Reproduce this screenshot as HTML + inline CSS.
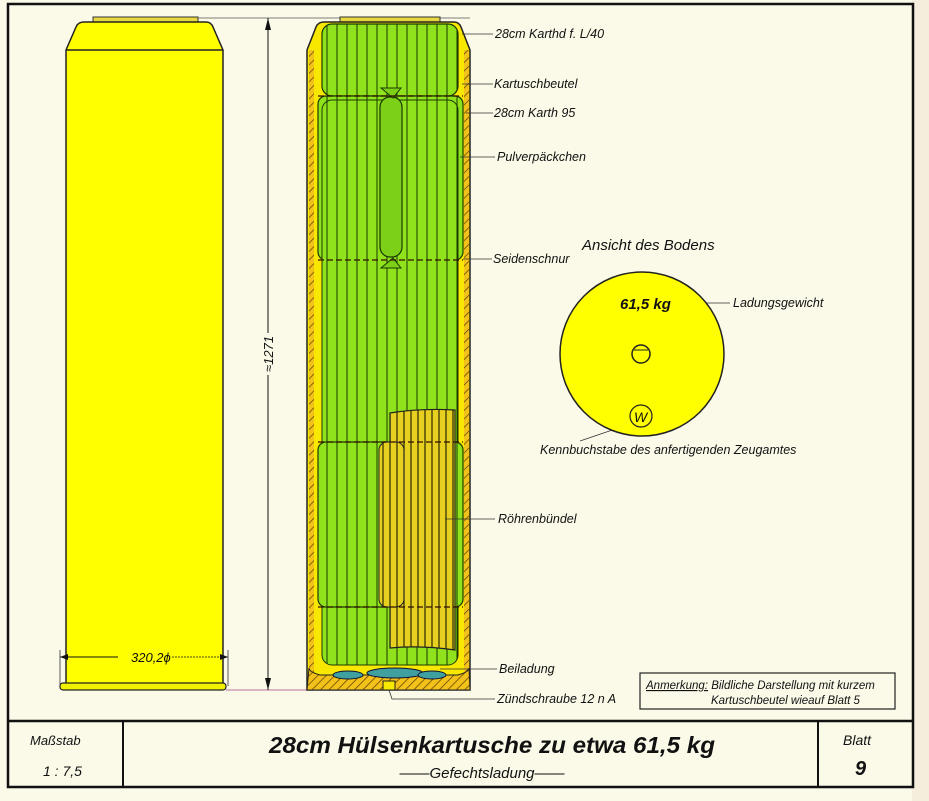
<!DOCTYPE html>
<html><head><meta charset="utf-8"><style>
body{margin:0;background:#fbf9e8;}
svg{display:block}
text{font-family:"Liberation Sans",sans-serif;font-style:italic;fill:#111}
</style></head><body>
<svg width="929" height="801" viewBox="0 0 929 801" xmlns="http://www.w3.org/2000/svg">
<defs>
<pattern id="hatch" width="6" height="6" patternUnits="userSpaceOnUse" patternTransform="rotate(45)">
<rect width="6" height="6" fill="#f2c21a"/><line x1="0" y1="0" x2="0" y2="6" stroke="#5a3a00" stroke-width="1.4"/></pattern>
<pattern id="vl" width="10" height="10" patternUnits="userSpaceOnUse" x="322">
<rect width="10" height="10" fill="#8fe21c"/><line x1="5" y1="0" x2="5" y2="10" stroke="#1a3a00" stroke-width="1"/></pattern>
<pattern id="vy" width="7" height="10" patternUnits="userSpaceOnUse" x="380">
<rect width="7" height="10" fill="#e8d020"/><line x1="3" y1="0" x2="3" y2="10" stroke="#2a2a00" stroke-width="1.2"/></pattern>
</defs>
<rect width="929" height="801" fill="#fbf9e8"/>
<rect x="912" y="0" width="17" height="801" fill="#f5eedd"/>
<rect x="8" y="4" width="905" height="783" fill="none" stroke="#111" stroke-width="2.5"/>
<line x1="8" y1="721" x2="913" y2="721" stroke="#111" stroke-width="2.5"/>
<line x1="123" y1="721" x2="123" y2="787" stroke="#111" stroke-width="2"/>
<line x1="818" y1="721" x2="818" y2="787" stroke="#111" stroke-width="2"/>

<!-- left cylinder -->
<rect x="93" y="17" width="105" height="6" fill="#e8d840" stroke="#333" stroke-width="1"/>
<path d="M84 22 L206 22 Q211 22 213 27 L223 50 L223 684 L66 684 L66 50 L76 27 Q78 22 84 22 Z" fill="#ffff00" stroke="#222" stroke-width="1.5"/>
<line x1="66" y1="50" x2="223" y2="50" stroke="#222" stroke-width="1.5"/>
<rect x="60" y="683" width="166" height="7" rx="3" fill="#f0f000" stroke="#222" stroke-width="1.2"/>
<line x1="60" y1="650" x2="60" y2="686" stroke="#333" stroke-width="0.8"/>
<line x1="228" y1="650" x2="228" y2="686" stroke="#333" stroke-width="0.8"/>
<line x1="60" y1="657" x2="118" y2="657" stroke="#111" stroke-width="1"/>
<line x1="172" y1="657" x2="228" y2="657" stroke="#111" stroke-width="0.8" stroke-dasharray="2 1"/>
<path d="M60 657 l8 -3 v6 z M228 657 l-8 -3 v6 z" fill="#111"/>
<text x="131" y="662" font-size="13">320,2ϕ</text>
<line x1="198" y1="18" x2="470" y2="18" stroke="#555" stroke-width="0.8"/>
<line x1="226" y1="690" x2="310" y2="690" stroke="#a04080" stroke-width="0.8"/>
<line x1="268" y1="18" x2="268" y2="333" stroke="#111" stroke-width="1"/>
<line x1="268" y1="375" x2="268" y2="690" stroke="#111" stroke-width="1"/>
<path d="M268 18 l-3 12 h6 z M268 690 l-3 -12 h6 z" fill="#111"/>
<text transform="translate(273,372) rotate(-90)" font-size="13">≈1271</text>

<!-- middle cylinder -->
<rect x="340" y="17" width="100" height="6" fill="#e8d840" stroke="#333" stroke-width="1"/>
<path d="M324 22 L454 22 Q459 22 461 27 L470 50 L470 690 L307 690 L307 50 L316 27 Q318 22 324 22 Z" fill="#f8e800" stroke="#222" stroke-width="1.5"/>
<rect x="309" y="50" width="5" height="630" fill="url(#hatch)"/>
<rect x="464" y="50" width="5" height="630" fill="url(#hatch)"/>
<path d="M309 668 Q309 672 320 675 L458 675 Q469 672 469 668 L470 690 L307 690 Z" fill="url(#hatch)" stroke="#222" stroke-width="1"/>
<rect x="322" y="24" width="136" height="72" rx="10" fill="url(#vl)" stroke="#1a3a00" stroke-width="1.2"/>
<rect x="318" y="96" width="145" height="164" rx="8" fill="url(#vl)" stroke="#1a3a00" stroke-width="1.2"/>
<rect x="322" y="100" width="136" height="565" rx="10" fill="url(#vl)" stroke="#1a3a00" stroke-width="1"/>
<rect x="318" y="442" width="145" height="165" rx="8" fill="url(#vl)" stroke="#1a3a00" stroke-width="1.2"/>
<rect x="380" y="97" width="22" height="160" rx="10" fill="#7cd018" stroke="#1a3a00" stroke-width="1.2"/>
<path d="M381 88 L401 88 L393 98 Z M381 268 L401 268 L393 258 Z" fill="#7cd018" stroke="#1a3a00"/>
<path d="M390 413 Q420 408 455 410 L455 650 Q420 645 390 648 Z" fill="url(#vy)" stroke="#222" stroke-width="1.2"/>
<rect x="379" y="442" width="25" height="165" rx="8" fill="url(#vy)" stroke="#222" stroke-width="1"/>
<g stroke="#331100" stroke-width="1.2" stroke-dasharray="6 3">
<line x1="318" y1="96" x2="463" y2="96"/><line x1="318" y1="260" x2="463" y2="260"/>
<line x1="318" y1="442" x2="463" y2="442"/><line x1="318" y1="607" x2="463" y2="607"/></g>
<ellipse cx="348" cy="675" rx="15" ry="4" fill="#40a0a0" stroke="#113"/>
<ellipse cx="395" cy="673" rx="28" ry="5" fill="#40a0a0" stroke="#113"/>
<ellipse cx="432" cy="675" rx="14" ry="4" fill="#40a0a0" stroke="#113"/>
<rect x="383" y="681" width="12" height="9" fill="#f8e800" stroke="#222"/>

<g stroke="#333" stroke-width="0.8">
<line x1="462" y1="34" x2="493" y2="34"/><line x1="462" y1="84" x2="493" y2="84"/>
<line x1="466" y1="113" x2="493" y2="113"/><line x1="460" y1="157" x2="495" y2="157"/>
<line x1="463" y1="259" x2="492" y2="259"/><line x1="445" y1="519" x2="495" y2="519"/>
<line x1="440" y1="669" x2="497" y2="669"/><path d="M389 690 L392 699 L495 699" fill="none"/>
<line x1="666" y1="303" x2="730" y2="303"/><line x1="630" y1="424" x2="580" y2="441"/>
</g>
<g font-size="12.5">
<text x="495" y="38">28cm Karthd f. L/40</text>
<text x="494" y="88">Kartuschbeutel</text>
<text x="494" y="117">28cm Karth 95</text>
<text x="497" y="161">Pulverpäckchen</text>
<text x="493" y="263">Seidenschnur</text>
<text x="498" y="523">Röhrenbündel</text>
<text x="499" y="673">Beiladung</text>
<text x="497" y="703">Zündschraube  12 n A</text>
</g>

<text x="582" y="250" font-size="15">Ansicht des Bodens</text>
<circle cx="642" cy="354" r="82" fill="#ffff00" stroke="#222" stroke-width="1.5"/>
<text x="620" y="309" font-size="15" font-weight="bold" font-style="normal">61,5 kg</text>
<text x="733" y="307" font-size="12.5">Ladungsgewicht</text>
<circle cx="641" cy="354" r="9" fill="none" stroke="#222" stroke-width="1.5"/>
<line x1="634" y1="350" x2="648" y2="350" stroke="#222"/>
<circle cx="641" cy="416" r="11" fill="none" stroke="#222" stroke-width="1.2"/>
<text x="634" y="422" font-size="14" font-style="normal">W</text>
<text x="540" y="454" font-size="12.5">Kennbuchstabe des anfertigenden Zeugamtes</text>

<rect x="640" y="673" width="255" height="36" fill="none" stroke="#222" stroke-width="1.2"/>
<text x="646" y="689" font-size="11.5"><tspan text-decoration="underline">Anmerkung:</tspan> Bildliche Darstellung mit kurzem</text>
<text x="711" y="704" font-size="11.5">Kartuschbeutel wieauf Blatt 5</text>

<text x="30" y="745" font-size="13">Maßstab</text>
<text x="43" y="776" font-size="14">1 : 7,5</text>
<text x="492" y="753" font-size="23" font-weight="bold" text-anchor="middle" textLength="446" lengthAdjust="spacingAndGlyphs">28cm Hülsenkartusche zu etwa 61,5 kg</text>
<text x="482" y="778" font-size="15" text-anchor="middle">——Gefechtsladung——</text>
<text x="843" y="745" font-size="14">Blatt</text>
<text x="855" y="775" font-size="20" font-weight="bold">9</text>
</svg>
</body></html>
